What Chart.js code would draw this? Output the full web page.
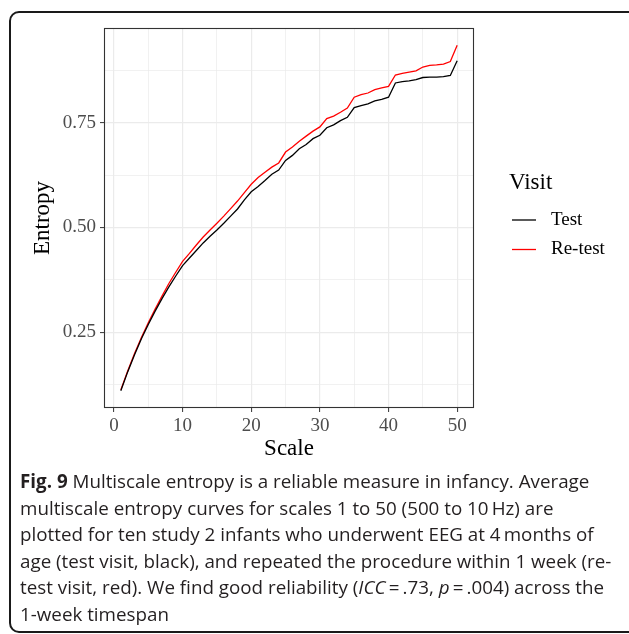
<!DOCTYPE html>
<html>
<head>
<meta charset="utf-8">
<script src="https://cdn.jsdelivr.net/npm/chart.js@4.4.1/dist/chart.umd.min.js"></script>
<style>
  html, body { margin: 0; padding: 0; background: #fff; }
  body { width: 629px; height: 634px; position: relative; overflow: hidden; }
  #frame {
    position: absolute; left: 9px; top: 11px; width: 640px; height: 618px;
    border: 2px solid #1a1a1a; border-radius: 10px;
  }
  #wrap { position: absolute; left: 0; top: 0; width: 629px; height: 470px; }
  #caption {
    position: absolute; left: 20px; top: 468px;
    font-family: "Open Sans", sans-serif; font-size: 18.8px; line-height: 26.6px;
    color: #231f20; white-space: nowrap;
  }
  #caption b { font-weight: 700; }
</style>
</head>
<body>
<div id="frame"></div>
<div id="wrap"><canvas id="mseChart" width="629" height="470"></canvas></div>
<div id="caption">
<b>Fig. 9</b> Multiscale entropy is a reliable measure in infancy. Average<br>
multiscale entropy curves for scales 1 to 50 (500 to 10&#8201;Hz) are<br>
plotted for ten study 2 infants who underwent EEG at 4&#8201;months of<br>
age (test visit, black), and repeated the procedure within 1 week (re-<br>
test visit, red). We find good reliability (<i>ICC</i>&#8201;=&#8201;.73, <i>p</i>&#8201;=&#8201;.004) across the<br>
1-week timespan
</div>
<script>
const scaleValues = [1, 2, 3, 4, 5, 6, 7, 8, 9, 10,
    11, 12, 13, 14, 15, 16, 17, 18, 19, 20,
    21, 22, 23, 24, 25, 26, 27, 28, 29, 30,
    31, 32, 33, 34, 35, 36, 37, 38, 39, 40,
    41, 42, 43, 44, 45, 46, 47, 48, 49, 50];

const testEntropy = [0.110, 0.155, 0.196, 0.234, 0.268, 0.300, 0.330, 0.358, 0.384, 0.409,
    0.427, 0.445, 0.463, 0.479, 0.494, 0.510, 0.527, 0.544, 0.566, 0.585,
    0.598, 0.612, 0.627, 0.637, 0.660, 0.672, 0.688, 0.698, 0.712, 0.720,
    0.738, 0.745, 0.755, 0.763, 0.786, 0.791, 0.795, 0.802, 0.806, 0.811,
    0.845, 0.848, 0.850, 0.853, 0.858, 0.859, 0.859, 0.860, 0.863, 0.898];

const retestEntropy = [0.112, 0.157, 0.199, 0.237, 0.272, 0.305, 0.336, 0.366, 0.393, 0.419,
    0.438, 0.458, 0.477, 0.494, 0.510, 0.527, 0.545, 0.563, 0.583, 0.603,
    0.619, 0.632, 0.644, 0.654, 0.680, 0.692, 0.706, 0.718, 0.730, 0.740,
    0.760, 0.766, 0.775, 0.785, 0.811, 0.817, 0.821, 0.829, 0.833, 0.837,
    0.864, 0.868, 0.871, 0.874, 0.883, 0.887, 0.888, 0.890, 0.896, 0.935];

const xMajor = [0, 10, 20, 30, 40, 50];
const yMajor = [0.25, 0.50, 0.75];
const legendTitle = 'Visit';
const seriesNames = ['Test', 'Re-test'];

// ggplot style: 5% expansion of the data range, minor breaks halfway between majors
function expand(lo, hi) {
    const r = hi - lo;
    return [lo - r * 0.05, hi + r * 0.05];
}
const [xMin, xMax] = expand(Math.min(...scaleValues), Math.max(...scaleValues));
const allY = testEntropy.concat(retestEntropy);
const [yMin, yMax] = expand(Math.min(...allY), Math.max(...allY));

function withMinors(majors, lo, hi) {
    const step = majors[1] - majors[0];
    const out = [];
    for (let v = majors[0] - step; v <= majors[majors.length - 1] + step + 1e-9; v += step / 2) {
        const r = Math.round(v * 1000) / 1000;
        if (r >= lo && r <= hi) out.push(r);
    }
    return out;
}
const isMajor = (list, v) => list.some(m => Math.abs(m - v) < 1e-6);

const toPoints = ys => scaleValues.map((s, i) => ({ x: s, y: ys[i] }));

const serif = '"Liberation Serif", "DejaVu Serif", serif';

const panelBorder = {
    id: 'panelBorder',
    afterDatasetsDraw(chart) {
        const { ctx, chartArea: a } = chart;
        ctx.save();
        ctx.strokeStyle = '#333333';
        ctx.lineWidth = 1.1;
        ctx.strokeRect(a.left + 0.5, a.top + 0.5, a.right - a.left - 1, a.bottom - a.top - 1);
        ctx.restore();
    }
};

// legend drawn to the right like ggplot's guide
const sideLegend = {
    id: 'sideLegend',
    afterDraw(chart) {
        const { ctx } = chart;
        const x0 = 509, yTitle = 183, yFirst = 220, gap = 29.5;
        ctx.save();
        ctx.fillStyle = '#000';
        ctx.textBaseline = 'middle';
        ctx.textAlign = 'left';
        ctx.font = '23px ' + serif;
        ctx.fillText(legendTitle, x0, yTitle);
        ctx.font = '19px ' + serif;
        chart.data.datasets.forEach((ds, i) => {
            const y = yFirst + i * gap;
            ctx.strokeStyle = ds.borderColor;
            ctx.lineWidth = 1.3;
            ctx.beginPath();
            ctx.moveTo(512, y);
            ctx.lineTo(536, y);
            ctx.stroke();
            ctx.fillStyle = '#000';
            ctx.fillText(ds.label, 551, y);
        });
        ctx.restore();
    }
};

new Chart(document.getElementById('mseChart'), {
    type: 'line',
    data: {
        datasets: [
            {
                label: seriesNames[0],
                data: toPoints(testEntropy),
                borderColor: '#000000',
                borderWidth: 1.3,
                pointRadius: 0,
                tension: 0,
                fill: false
            },
            {
                label: seriesNames[1],
                data: toPoints(retestEntropy),
                borderColor: '#ff0000',
                borderWidth: 1.3,
                pointRadius: 0,
                tension: 0,
                fill: false
            }
        ]
    },
    options: {
        responsive: false,
        animation: false,
        layout: { padding: { left: 0, top: 28, right: 155, bottom: 0 } },
        plugins: {
            legend: { display: false },
            tooltip: { enabled: false }
        },
        scales: {
            x: {
                type: 'linear',
                min: xMin,
                max: xMax,
                afterBuildTicks(scale) {
                    scale.ticks = withMinors(xMajor, xMin, xMax).map(v => ({ value: v }));
                },
                afterFit(scale) { scale.height = 62; },
                border: { display: false },
                grid: {
                    color: '#ebebeb',
                    lineWidth: ctx => isMajor(xMajor, ctx.tick.value) ? 1.2 : 0.7,
                    tickLength: 4,
                    tickColor: ctx => isMajor(xMajor, ctx.tick.value) ? '#333333' : 'rgba(0,0,0,0)',
                    tickWidth: 1
                },
                ticks: {
                    autoSkip: false,
                    maxRotation: 0,
                    padding: 3,
                    color: '#4d4d4d',
                    font: { family: serif, size: 19 },
                    callback: v => isMajor(xMajor, v) ? String(Math.round(v)) : ''
                },
                title: {
                    display: true,
                    text: 'Scale',
                    color: '#000',
                    font: { family: serif, size: 23 },
                    padding: { top: 0, bottom: 7 }
                }
            },
            y: {
                type: 'linear',
                min: yMin,
                max: yMax,
                afterBuildTicks(scale) {
                    scale.ticks = withMinors(yMajor, yMin, yMax).map(v => ({ value: v }));
                },
                afterFit(scale) { scale.width = 104; },
                border: { display: false },
                grid: {
                    color: '#ebebeb',
                    lineWidth: ctx => isMajor(yMajor, ctx.tick.value) ? 1.2 : 0.7,
                    tickLength: 4,
                    tickColor: ctx => isMajor(yMajor, ctx.tick.value) ? '#333333' : 'rgba(0,0,0,0)',
                    tickWidth: 1
                },
                ticks: {
                    autoSkip: false,
                    padding: 4,
                    color: '#4d4d4d',
                    font: { family: serif, size: 19 },
                    callback: v => isMajor(yMajor, v) ? v.toFixed(2) : ''
                },
                title: {
                    display: true,
                    text: 'Entropy',
                    color: '#000',
                    font: { family: serif, size: 23 },
                    padding: { top: 29, bottom: 0 }
                }
            }
        }
    },
    plugins: [panelBorder, sideLegend]
});
</script>
</body>
</html>
